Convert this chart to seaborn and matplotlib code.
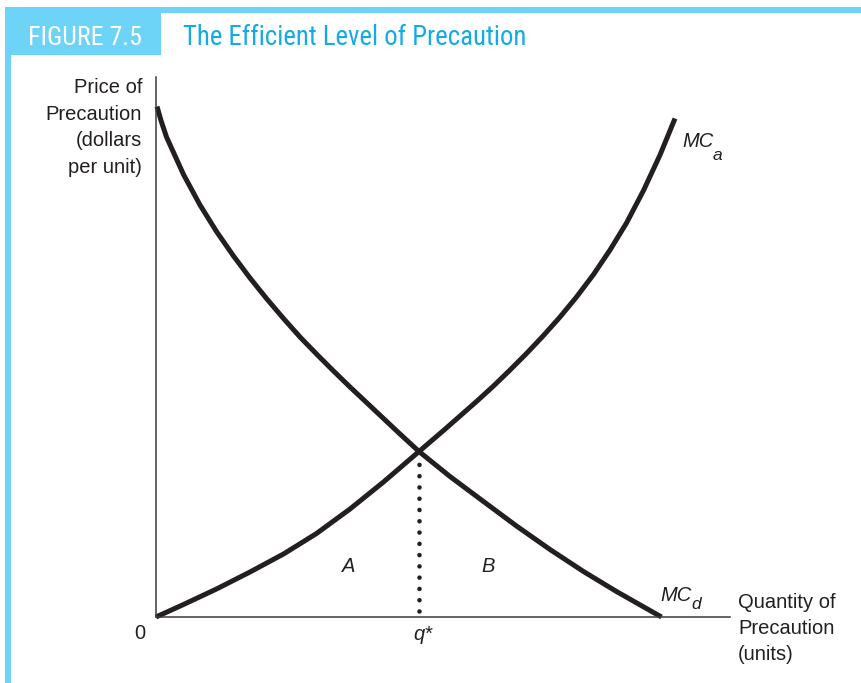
import numpy as np
import pandas as pd
import matplotlib
matplotlib.use("Agg")
import matplotlib.pyplot as plt
import seaborn as sns
from matplotlib.patches import Rectangle

# ---------------- data ----------------
mcd_q = [0.02, 0.10, 0.21, 0.55, 0.88, 1.21, 1.55, 1.88, 2.21, 2.55, 2.88,
         3.21, 3.55, 3.88, 4.21, 4.55, 4.88, 5.26, 5.88, 6.55, 7.21, 7.88,
         8.55, 9.21, 9.88, 10.11]
mcd_p = [10.21, 9.93, 9.60, 8.85, 8.24, 7.71, 7.22, 6.78, 6.37, 5.97, 5.60,
         5.26, 4.92, 4.60, 4.29, 3.97, 3.66, 3.31, 2.81, 2.31, 1.82, 1.35,
         0.91, 0.51, 0.13, 0.00]
mca_q = [0.00, 0.55, 1.21, 1.88, 2.55, 3.21, 3.88, 4.55, 5.26, 5.75, 6.08,
         6.41, 6.75, 7.08, 7.41, 7.75, 8.08, 8.41, 8.75, 9.08, 9.41, 9.75,
         10.08, 10.38]
mca_p = [0.00, 0.25, 0.56, 0.90, 1.26, 1.67, 2.16, 2.70, 3.31, 3.73, 4.02,
         4.31, 4.62, 4.94, 5.27, 5.63, 6.00, 6.40, 6.85, 7.34, 7.88, 8.53,
         9.24, 9.97]
q_star = 5.26
p_star = 3.31
x_max = 11.48
y_max = 10.8

fig_label = "FIGURE 7.5"
fig_title = "The Efficient Level of Precaution"
y_label_lines = ["Price of", "Precaution", "(dollars", "per unit)"]
x_label_lines = ["Quantity of", "Precaution", "(units)"]

# ---------------- style ----------------
sns.set_style("white")
plt.rcParams["font.family"] = ["Liberation Sans", "DejaVu Sans"]
INK = "#231f20"
CYAN_LIGHT = "#6dd3f7"
CYAN_TEXT = "#14aae6"
CONDENSED = ["Roboto Condensed", "Archivo Narrow", "Barlow Semi Condensed",
             "DejaVu Sans"]

W, H = 861, 683
fig = plt.figure(figsize=(W / 100, H / 100), dpi=100)
fig.patch.set_facecolor("white")


def fx(px):
    return px / W


def fy(py):
    return 1 - py / H


def rect_px(x0, y0, x1, y1, color):
    fig.add_artist(Rectangle((fx(x0), fy(y1)), (x1 - x0) / W, (y1 - y0) / H,
                             transform=fig.transFigure, facecolor=color,
                             edgecolor="none", zorder=0))


def text_px(x, y, s, **kw):
    kw.setdefault("va", "baseline")
    kw.setdefault("color", INK)
    fig.text(fx(x), fy(y), s, **kw)


# header frame
rect_px(5, 7, W, 13, CYAN_LIGHT)
rect_px(5, 7, 11, H, CYAN_LIGHT)
rect_px(5, 7, 161, 55, CYAN_LIGHT)
text_px(85, 45, fig_label, ha="center", color="white", fontsize=18.6,
        family=CONDENSED)
text_px(183, 45, fig_title, ha="left", color=CYAN_TEXT, fontsize=19.3,
        family=CONDENSED)

# ---------------- axes ----------------
ax = fig.add_axes([fx(156), fy(617), 574 / W, 540 / H])
ax.set_facecolor("none")

df = pd.concat([
    pd.DataFrame({"q": mcd_q, "p": mcd_p, "curve": "MCd"}),
    pd.DataFrame({"q": mca_q, "p": mca_p, "curve": "MCa"}),
], ignore_index=True)
sns.lineplot(data=df, x="q", y="p", units="curve", estimator=None,
             color=INK, linewidth=3.6, ax=ax, legend=False)
for ln in ax.lines:
    ln.set_clip_on(False)
    ln.set_solid_capstyle("butt")
    ln.set_solid_joinstyle("round")

ax.plot([q_star, q_star], [0.12, p_star - 0.25], color=INK, linewidth=3.3,
        linestyle=(0, (0.01, 2.45)), dash_capstyle="round", clip_on=False)

ax.set_xlim(0, x_max)
ax.set_ylim(0, y_max)
ax.set_xticks([])
ax.set_yticks([])
ax.set_xlabel("")
ax.set_ylabel("")
for side in ["top", "right"]:
    ax.spines[side].set_visible(False)
for side in ["left", "bottom"]:
    ax.spines[side].set_color("#3a3a3a")
    ax.spines[side].set_linewidth(1.1)

# ---------------- labels ----------------
FS = 14.5
for i, line in enumerate(y_label_lines):
    text_px(142, 93 + i * 26.7, line, ha="right", fontsize=FS)
for i, line in enumerate(x_label_lines):
    text_px(738, 608 + i * 26, line, ha="left", fontsize=FS)

text_px(140, 639, "0", ha="center", fontsize=FS)
text_px(423, 640, "q*", ha="center", fontsize=FS, style="italic")
text_px(349, 572, "A", ha="center", fontsize=FS, style="italic")
text_px(488, 572, "B", ha="center", fontsize=FS, style="italic")

text_px(682, 147, "MC", ha="left", fontsize=FS, style="italic")
text_px(713, 160, "a", ha="left", fontsize=12.5, style="italic")
text_px(660, 601, "MC", ha="left", fontsize=FS, style="italic")
text_px(691, 609, "d", ha="left", fontsize=12.5, style="italic")

fig.savefig("out.png", dpi=100, facecolor="white")
